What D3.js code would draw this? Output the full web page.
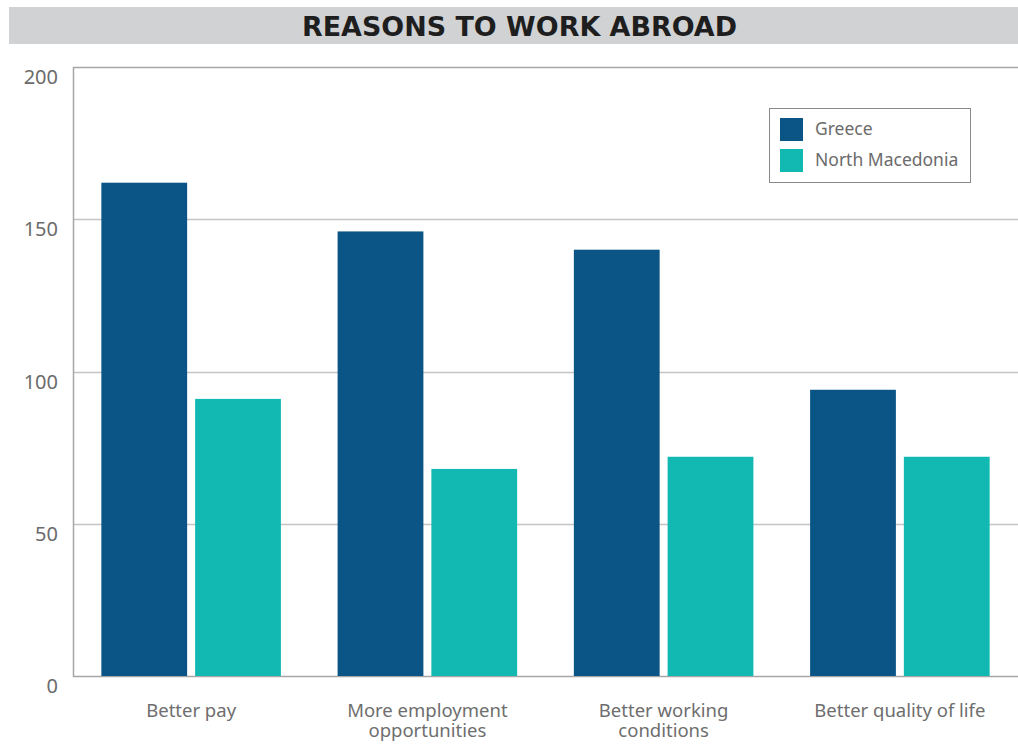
<!DOCTYPE html>
<html>
<head>
<meta charset="utf-8">
<script src="https://cdn.jsdelivr.net/npm/d3@7.9.0/dist/d3.min.js"></script>
<style>
  body { margin: 0; background: #fff; }
  svg { display: block; font-family: "Noto Sans", "Open Sans", sans-serif; }
</style>
</head>
<body>
<svg id="vis" width="1018" height="744"></svg>
<script>
// data
const categories = ['Better pay', 'More employment opportunities', 'Better working conditions', 'Better quality of life'];
const categoryLines = [['Better pay'], ['More employment', 'opportunities'], ['Better working', 'conditions'], ['Better quality of life']];
const seriesNames = ['Greece', 'North Macedonia'];
const greece = [162, 146, 140, 94];
const northMacedonia = [91, 68, 72, 72];
const yTicks = [0, 50, 100, 150, 200];
const colors = ['#0a5586', '#12b9b2'];

const W = 1018, H = 744;
const m = { left: 73, right: 0, top: 67, bottom: 68 };
const svg = d3.select('#vis');

// title band
svg.append('rect')
  .attr('x', 9).attr('y', 7).attr('width', W - 9).attr('height', 37)
  .attr('fill', '#d1d2d4');
svg.append('text')
  .attr('x', 519.5).attr('y', 36)
  .attr('text-anchor', 'middle')
  .attr('font-family', '"DejaVu Sans", sans-serif')
  .attr('font-weight', 'bold')
  .attr('font-size', 26)
  .attr('textLength', 435).attr('lengthAdjust', 'spacingAndGlyphs')
  .attr('fill', '#1e1e1e')
  .text('REASONS TO WORK ABROAD');

const y = d3.scaleLinear().domain([0, 200]).range([H - m.bottom, m.top]);
const x0 = d3.scaleBand().domain(categories).range([m.left, W - m.right])
  .paddingInner(0.24).paddingOuter(0.12);
const x1 = d3.scaleBand().domain(seriesNames).range([0, x0.bandwidth()]).paddingInner(0.085);

// grid
svg.append('g').selectAll('line')
  .data(yTicks)
  .join('line')
    .attr('x1', m.left).attr('x2', W)
    .attr('y1', d => Math.round(y(d)) + 0.5).attr('y2', d => Math.round(y(d)) + 0.5)
    .attr('stroke', d => d === 0 || d === 200 ? '#a6a6a6' : '#c4c4c4')
    .attr('stroke-width', 1.5);
svg.append('line')
  .attr('x1', m.left + 0.5).attr('x2', m.left + 0.5)
  .attr('y1', y(200)).attr('y2', y(0) + 1)
  .attr('stroke', '#a6a6a6').attr('stroke-width', 1.5);

// y labels
svg.append('g').selectAll('text')
  .data(yTicks)
  .join('text')
    .attr('x', 58).attr('y', d => y(d) + 17)
    .attr('text-anchor', 'end')
    .attr('font-size', 20)
    .attr('fill', '#6b6b6b')
    .text(d => d);

// bars
const rows = categories.map((c, i) => ({ cat: c, vals: [greece[i], northMacedonia[i]] }));
const grp = svg.append('g').selectAll('g')
  .data(rows)
  .join('g')
    .attr('transform', d => `translate(${x0(d.cat)},0)`);
grp.selectAll('rect')
  .data(d => d.vals.map((v, j) => ({ s: seriesNames[j], v, j })))
  .join('rect')
    .attr('x', d => x1(d.s))
    .attr('width', x1.bandwidth())
    .attr('y', d => y(d.v))
    .attr('height', d => y(0) - y(d.v))
    .attr('fill', d => colors[d.j]);

// x labels
const xl = svg.append('g').selectAll('text')
  .data(categories)
  .join('text')
    .attr('x', d => x0(d) + x0.bandwidth() / 2)
    .attr('y', 717)
    .attr('text-anchor', 'middle')
    .attr('font-size', 18.5)
    .attr('fill', '#6e6e6e');
xl.selectAll('tspan')
  .data((d, i) => categoryLines[i])
  .join('tspan')
    .attr('x', function() { return this.parentNode.getAttribute('x'); })
    .attr('dy', (d, i) => i === 0 ? 0 : 20)
    .text(d => d);

// legend
const lg = svg.append('g').attr('transform', 'translate(769.5,108.5)');
lg.append('rect')
  .attr('width', 201).attr('height', 74)
  .attr('fill', '#fff').attr('stroke', '#8a8a8a').attr('stroke-width', 1);
const li = lg.selectAll('g')
  .data(seriesNames)
  .join('g')
    .attr('transform', (d, i) => `translate(10.5,${9.5 + i * 31})`);
li.append('rect')
  .attr('width', 23).attr('height', 23)
  .attr('fill', (d, i) => colors[i]);
li.append('text')
  .attr('x', 35).attr('y', 17)
  .attr('font-size', 17.5)
  .attr('fill', '#6b6b6b')
  .text(d => d);
</script>
</body>
</html>
